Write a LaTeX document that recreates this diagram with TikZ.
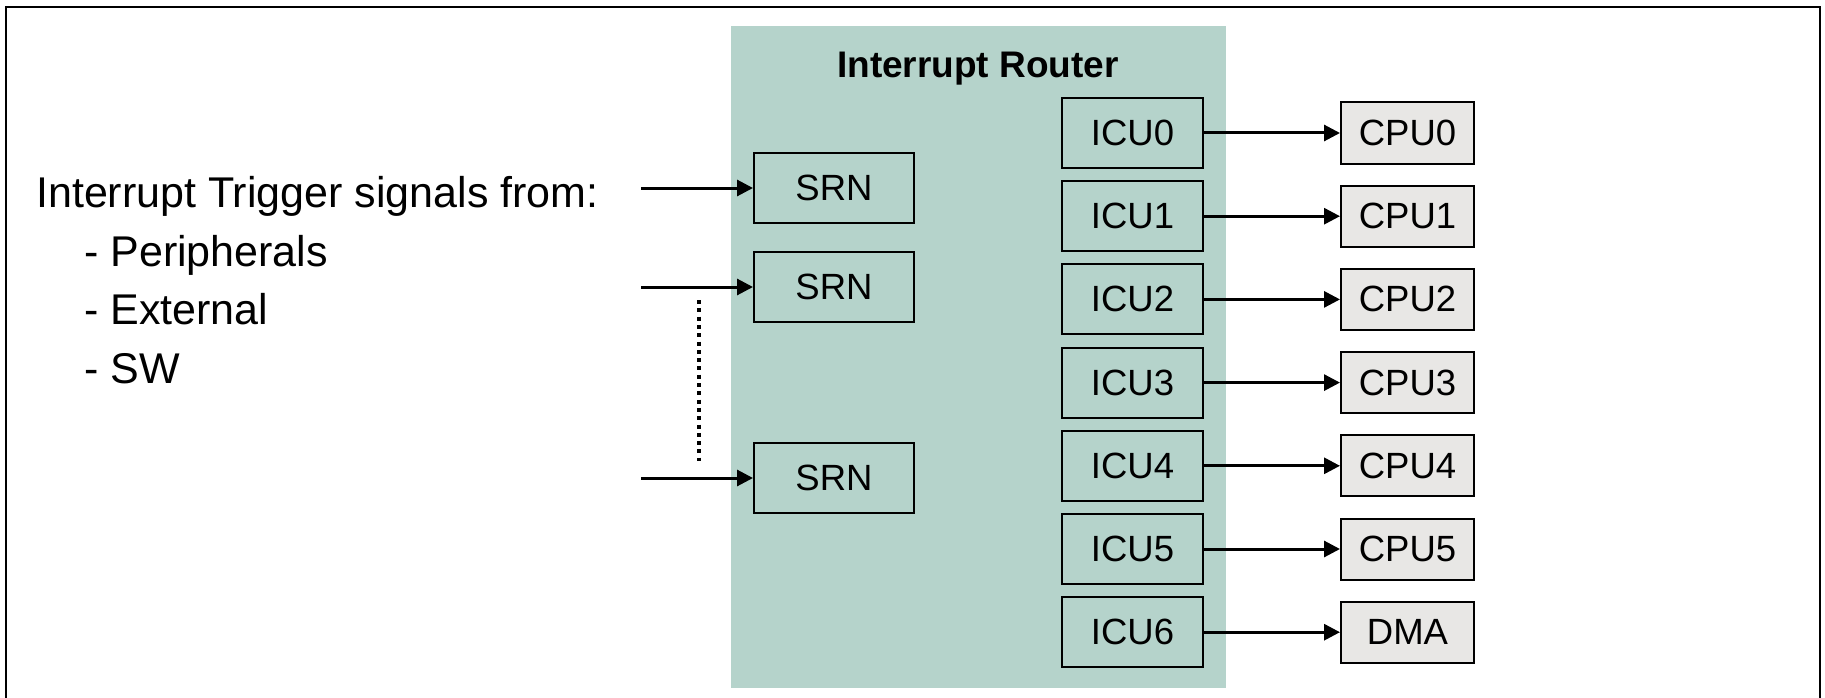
\documentclass[tikz,border=0pt]{standalone}
\usepackage{fontspec}
\setmainfont{Liberation Sans}
\usetikzlibrary{arrows.meta}
\definecolor{routergreen}{HTML}{B5D3CB}
\definecolor{cpugray}{HTML}{E8E7E5}
\begin{document}
\begin{tikzpicture}[x=1pt,y=-1pt,
  boxtext/.style={font=\fontsize{36.5}{42}\selectfont},
  srnbox/.style={draw=black,line width=2pt,fill=routergreen,minimum width=160pt,minimum height=70pt,inner sep=0pt,boxtext},
  icubox/.style={draw=black,line width=2pt,fill=routergreen,minimum width=141pt,minimum height=70pt,inner sep=0pt,boxtext},
  cpubox/.style={draw=black,line width=2pt,fill=cpugray,minimum width=133pt,minimum height=61pt,inner sep=0pt,boxtext},
  sig/.style={line width=3pt,-{Triangle[length=16pt,width=16pt]}},
  lefttext/.style={font=\fontsize{43}{50}\selectfont,inner sep=0pt,anchor=base west}
]
\useasboundingbox (0,0) rectangle (1825,698);
% outer frame (no bottom edge visible)
\draw[line width=2pt] (5.5,698) -- (5.5,7) -- (1820,7) -- (1820,698);
% router background
\fill[routergreen] (731,26) rectangle (1226,688);
\node[anchor=base,inner sep=0pt,font=\fontsize{37}{44}\selectfont\bfseries] (title) at (978,78) {Interrupt Router};
% SRN boxes
\node[srnbox] (srn1) at (834,188) {SRN};
\node[srnbox] (srn2) at (834,287) {SRN};
\node[srnbox] (srn3) at (834,478) {SRN};
% input coordinates
\coordinate (in1) at (641,188);
\coordinate (in2) at (641,287);
\coordinate (in3) at (641,478);
\draw[sig] (in1) -- (srn1.west);
\draw[sig] (in2) -- (srn2.west);
\draw[sig] (in3) -- (srn3.west);
% dotted continuation
\coordinate (dtop) at (698.5,300);
\coordinate (dbot) at (698.5,461);
\draw[line width=4pt,dash pattern=on 4pt off 4.3pt] (dtop) -- (dbot);
% ICU and CPU boxes
\foreach \i/\lab in {0/CPU0,1/CPU1,2/CPU2,3/CPU3,4/CPU4,5/CPU5,6/DMA}{
  \node[icubox] (icu\i) at (1132.5,{133+83.2*\i}) {ICU\i};
  \node[cpubox] (cpu\i) at (1407.5,{133+83.2*\i}) {\lab};
  \draw[sig] (icu\i.east) -- (cpu\i.west);
}
% left text
\node[lefttext] (t0) at (36,207) {Interrupt Trigger signals from:};
\node[lefttext] (t1) at (84,266) {- Peripherals};
\node[lefttext] (t2) at (84,324.5) {- External};
\node[lefttext] (t3) at (84,383) {- SW};
\end{tikzpicture}
\end{document}
